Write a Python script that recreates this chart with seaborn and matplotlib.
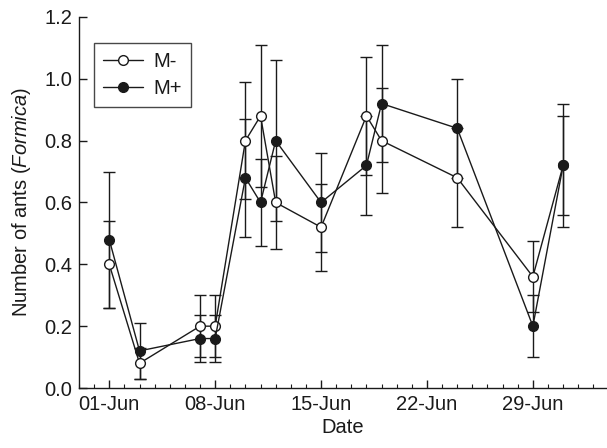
import numpy as np
import pandas as pd
import matplotlib
matplotlib.use("Agg")
import matplotlib.pyplot as plt
import matplotlib.dates as mdates
from matplotlib.lines import Line2D
import seaborn as sns

dates = ["2023-06-01", "2023-06-03", "2023-06-07", "2023-06-08", "2023-06-10",
         "2023-06-11", "2023-06-12", "2023-06-15", "2023-06-18", "2023-06-19",
         "2023-06-24", "2023-06-29", "2023-07-01"]
m_minus = [0.40, 0.08, 0.20, 0.20, 0.80, 0.88, 0.60, 0.52, 0.88, 0.80, 0.68, 0.36, 0.72]
m_minus_err = [0.14, 0.05, 0.10, 0.10, 0.19, 0.23, 0.15, 0.14, 0.19, 0.17, 0.16, 0.115, 0.16]
m_plus = [0.48, 0.12, 0.16, 0.16, 0.68, 0.60, 0.80, 0.60, 0.72, 0.92, 0.84, 0.20, 0.72]
m_plus_err = [0.22, 0.09, 0.075, 0.075, 0.19, 0.14, 0.26, 0.16, 0.16, 0.19, 0.16, 0.10, 0.20]
series = ["M-", "M+"]
xtick_dates = ["2023-06-01", "2023-06-08", "2023-06-15", "2023-06-22", "2023-06-29"]
xtick_labels = ["01-Jun", "08-Jun", "15-Jun", "22-Jun", "29-Jun"]
yticks = [0.0, 0.2, 0.4, 0.6, 0.8, 1.0, 1.2]

sns.set_theme(style="ticks")
plt.rcParams["font.family"] = ["Liberation Sans", "DejaVu Sans"]
plt.rcParams["mathtext.fontset"] = "custom"
plt.rcParams["mathtext.rm"] = "Liberation Sans"
plt.rcParams["mathtext.it"] = "Liberation Sans:italic"

FS = 14.5
MS = 7.0
col = "#1a1a1a"
d = pd.to_datetime(dates)
df = pd.concat([
    pd.DataFrame({"Date": d, "val": m_minus, "err": m_minus_err, "grp": series[0]}),
    pd.DataFrame({"Date": d, "val": m_plus, "err": m_plus_err, "grp": series[1]}),
])

fig = plt.figure(figsize=(6.07, 4.48), dpi=100)
ax = fig.add_axes([79/607, 1-388/448, 528/607, 371/448])

faces = {"M-": "white", "M+": col}
for g in series:
    sub = df[df.grp == g]
    ax.errorbar(sub["Date"], sub["val"], yerr=sub["err"], fmt="none",
                ecolor=col, elinewidth=1.0, capsize=4.5, capthick=1.0, zorder=2)
for g in series:
    sub = df[df.grp == g]
    sns.lineplot(data=sub, x="Date", y="val", color=col, marker="o",
                 markersize=MS, markerfacecolor=faces[g], markeredgecolor=col,
                 markeredgewidth=1.0, linewidth=1.0, ax=ax, zorder=3, legend=False)

x0 = pd.Timestamp("2023-05-30")
ax.set_xlim(x0, x0 + pd.Timedelta(days=34.9))
ax.set_ylim(0, 1.2)
ax.set_yticks(yticks)
ax.set_yticklabels([f"{v:.1f}" for v in yticks])
ax.set_xticks(pd.to_datetime(xtick_dates))
ax.set_xticklabels(xtick_labels)
ax.xaxis.set_minor_locator(mdates.DayLocator())
ax.tick_params(axis="both", which="major", direction="in", length=6, width=1.0,
               labelsize=FS, colors=col)
ax.tick_params(axis="x", which="major", pad=5)
ax.tick_params(axis="y", which="major", pad=5)
ax.tick_params(axis="x", which="minor", direction="in", length=3, width=0.8, colors=col)
for s in ["top", "right"]:
    ax.spines[s].set_visible(False)
for s in ["left", "bottom"]:
    ax.spines[s].set_linewidth(1.0)
    ax.spines[s].set_color(col)

ax.set_xlabel("Date", fontsize=FS, color=col, labelpad=3)
ax.set_ylabel(r"Number of ants ($\it{Formica}$)", fontsize=FS, color=col, labelpad=8)

h = [Line2D([], [], color=col, lw=1.0, marker="o", markersize=MS, markerfacecolor="white", markeredgecolor=col),
     Line2D([], [], color=col, lw=1.0, marker="o", markersize=MS, markerfacecolor=col, markeredgecolor=col)]
leg = ax.legend(h, series, loc="upper left", bbox_to_anchor=(0.028, 0.93),
                frameon=True, fancybox=False, fontsize=FS, handlelength=2.0,
                borderpad=0.45, labelspacing=0.4, handletextpad=0.5, borderaxespad=0)
leg.get_frame().set_edgecolor(col)
leg.get_frame().set_linewidth(1.0)
for t in leg.get_texts():
    t.set_color(col)

fig.savefig("out.png", dpi=100)
